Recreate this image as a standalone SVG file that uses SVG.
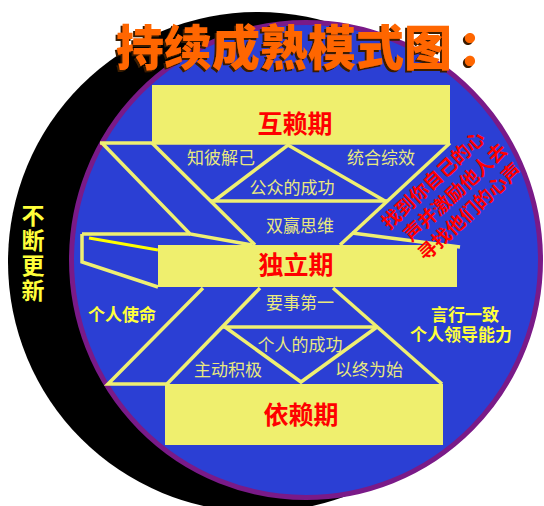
<svg xmlns="http://www.w3.org/2000/svg" width="544" height="506" viewBox="0 0 544 506">
<style>
.ln{stroke:#EFEF72;stroke-width:3.5;fill:none;stroke-linejoin:miter}
.box{fill:#EFEF6E}
.lbl{font-family:"Noto Sans CJK SC","Noto Sans",sans-serif;font-size:17px;fill:#E9E97E;text-anchor:middle}
.stage{font-family:"Noto Sans CJK SC","Noto Sans",sans-serif;font-size:25px;font-weight:bold;fill:#FF0000;text-anchor:middle}
.side{font-family:"Noto Sans CJK SC","Noto Sans",sans-serif;font-size:17px;font-weight:bold;fill:#FFFF3A;text-anchor:middle}
.tight{font-family:"Liberation Sans","Noto Sans CJK SC",sans-serif}
.red{font-family:"Noto Sans CJK SC","Noto Sans",sans-serif;font-size:19px;font-weight:bold;fill:#FF0000;text-anchor:middle}
.title{font-family:"Noto Sans CJK SC","Noto Sans",sans-serif;font-size:48px;font-weight:900;fill:#FF6600}
</style>
<defs>
  <filter id="shadow" x="-5%" y="-20%" width="110%" height="140%">
    <feDropShadow dx="-2" dy="2" stdDeviation="0.3" flood-color="#3A1C00" flood-opacity="1"/>
  </filter>
</defs>
<rect width="544" height="506" fill="#FFFFFF"/>
<g id="background">
  <circle cx="258" cy="262" r="250" fill="#000000"/>
  <ellipse cx="306" cy="260" rx="234.5" ry="237.5" fill="#2B3FD4" stroke="#7A1A88" stroke-width="5"/>
</g>
<g id="connectors">
  <path class="ln" d="M100,143 H450"/>
  <path class="ln" d="M102,143 L190,234 L252,245"/>
  <path class="ln" d="M152,143 L255,245"/>
  <path class="ln" d="M450,143 L340,245"/>
  <path class="ln" d="M211,201 H387"/>
  <path class="ln" d="M214,201 L288,145 L385,201"/>
  <path class="ln" d="M352,233 L460,247"/>
  <path class="ln" d="M82,234 H190 M82,234 V262 L158,287"/>
  <path d="M89,238 L158,250" stroke="#FFFF00" stroke-width="3" fill="none"/>
  <path class="ln" d="M203,288 L108,384 H167"/>
  <path class="ln" d="M260,288 L167,384"/>
  <path class="ln" d="M333,288 L442,384"/>
  <path class="ln" d="M222,327 H378"/>
  <path class="ln" d="M225,327 L301,382 L377,327"/>
</g>
<g id="node-interdependence">
  <rect class="box" x="152" y="85" width="298" height="58"/>
  <text class="stage" x="295" y="133">互赖期</text>
</g>
<g id="node-independence">
  <rect class="box" x="158" y="245" width="299" height="42"/>
  <text class="stage" x="296" y="274">独立期</text>
</g>
<g id="node-dependence">
  <rect class="box" x="165" y="384" width="278" height="61"/>
  <text class="stage" x="301" y="424">依赖期</text>
</g>
<g id="node-habit5"><text class="lbl" x="221" y="164">知彼解己</text></g>
<g id="node-habit6"><text class="lbl" x="381" y="164">统合综效</text></g>
<g id="node-public"><text class="lbl" x="292" y="194">公众的成功</text></g>
<g id="node-habit4"><text class="lbl" x="300" y="232">双赢思维</text></g>
<g id="node-habit3"><text class="lbl" x="300" y="309">要事第一</text></g>
<g id="node-private"><text class="lbl" x="300" y="351">个人的成功</text></g>
<g id="node-habit1"><text class="lbl" x="228" y="376">主动积极</text></g>
<g id="node-habit2"><text class="lbl" x="369" y="376">以终为始</text></g>
<g id="node-mission"><text class="side" x="122" y="321">个人使命</text></g>
<g id="node-leadership">
  <text class="side tight" x="465" y="321">言行一致</text>
  <text class="side tight" x="461" y="341">个人领导能力</text>
</g>
<g id="node-renewal">
  <text class="side" style="font-size:23px;text-anchor:start;writing-mode:vertical-rl;letter-spacing:2px" x="33" y="204">不断更新</text>
</g>
<g id="node-voice" transform="translate(433,180) rotate(-43)">
  <text class="red" x="0" y="7">找到你自己的心</text>
  <text class="red" x="8" y="31">声并激励他人去</text>
  <text class="red" x="5" y="55">寻找他们的心声</text>
</g>
<g id="title">
  <text class="title" x="116" y="65" filter="url(#shadow)">持续成熟模式图<tspan dx="6">：</tspan></text>
</g>
</svg>
